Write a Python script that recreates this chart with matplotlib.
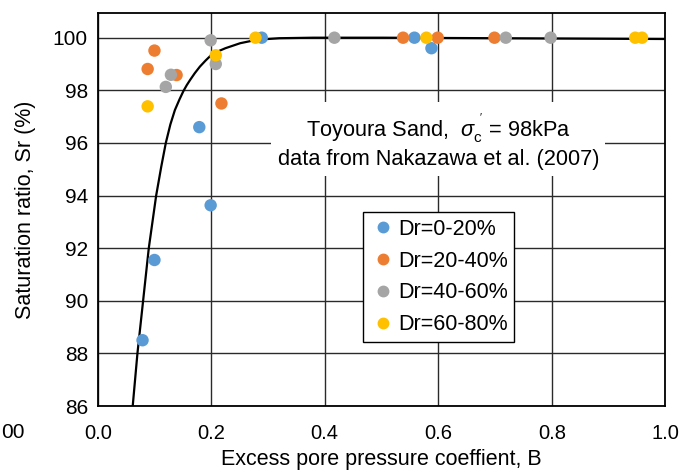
import matplotlib
matplotlib.use('Agg')
import matplotlib.pyplot as plt
from matplotlib.lines import Line2D

plt.rcParams['font.family'] = ['Liberation Sans', 'DejaVu Sans']
plt.rcParams['mathtext.fontset'] = 'custom'
plt.rcParams['mathtext.rm'] = 'Liberation Sans'
plt.rcParams['mathtext.it'] = 'Liberation Sans:italic'

# theoretical curve
curve_b = [0.0617, 0.070, 0.080, 0.090, 0.103, 0.112, 0.120, 0.128, 0.136, 0.144, 0.151,
           0.157, 0.163, 0.171, 0.180, 0.190, 0.200, 0.212, 0.225, 0.251, 0.28, 0.32,
           0.38, 0.5, 0.7, 1.0]
curve_sr = [86.0, 88.0, 90.0, 92.0, 94.0, 95.1, 96.0, 96.7, 97.25, 97.65, 97.97,
            98.2, 98.4, 98.65, 98.9, 99.13, 99.34, 99.48, 99.6, 99.79, 99.92, 99.98,
            100.0, 100.0, 99.98, 99.95]

# test data (Nakazawa et al. 2007)
b_0_20 = [0.079, 0.100, 0.199, 0.179, 0.289, 0.558, 0.588]
sr_0_20 = [88.5, 91.55, 93.63, 96.6, 100.0, 100.0, 99.6]

b_20_40 = [0.100, 0.088, 0.139, 0.218, 0.538, 0.599, 0.699]
sr_20_40 = [99.51, 98.81, 98.58, 97.5, 100.0, 100.0, 100.0]

b_40_60 = [0.199, 0.208, 0.129, 0.120, 0.417, 0.719, 0.798]
sr_40_60 = [99.9, 99.0, 98.59, 98.13, 100.0, 100.0, 100.0]

b_60_80 = [0.088, 0.208, 0.278, 0.579, 0.947, 0.959]
sr_60_80 = [97.39, 99.33, 100.0, 100.0, 100.0, 100.0]

series = [
    ('Dr=0-20%', b_0_20, sr_0_20, '#5B9BD5'),
    ('Dr=20-40%', b_20_40, sr_20_40, '#ED7D31'),
    ('Dr=40-60%', b_40_60, sr_40_60, '#A5A5A5'),
    ('Dr=60-80%', b_60_80, sr_60_80, '#FFC000'),
]

fig = plt.figure(figsize=(6.88, 4.73), dpi=100)
ax = fig.add_axes([97.7 / 688, 1 - 406 / 473, (665.3 - 97.7) / 688, (406 - 12.7) / 473])

ax.set_xlim(0, 1.0)
ax.set_ylim(86, 100.95)
ax.set_xticks([0.0, 0.2, 0.4, 0.6, 0.8, 1.0])
ax.set_xticklabels(['0.0', '0.2', '0.4', '0.6', '0.8', '1.0'])
ax.set_yticks(range(86, 101, 2))
ax.grid(True, color='#2a2a2a', lw=1.0)
ax.set_axisbelow(True)
ax.tick_params(length=0)
ax.tick_params(axis='x', pad=13, labelsize=14.5)
ax.tick_params(axis='y', pad=7, labelsize=15)
for s in ax.spines.values():
    s.set_linewidth(1.3)
    s.set_color('black')

ax.plot(curve_b, curve_sr, color='black', lw=1.6, zorder=2)

handles = []
for label, b, sr, c in series:
    ax.scatter(b, sr, s=80, color=c, edgecolors='none', zorder=3, clip_on=False)
    handles.append(Line2D([], [], marker='o', ls='none', color=c, markersize=7.5, label=label))

ax.set_xlabel('Excess pore pressure coeffient, B', fontsize=15.5, labelpad=4)
ax.set_ylabel('Saturation ratio, Sr (%)', fontsize=15.5, labelpad=12)

ax.text(0.60, 96.07, "Toyoura Sand,  $\\mathit{\\sigma}_{\\rm c}^{\\ '}$ = 98kPa\ndata from Nakazawa et al. (2007)",
        ha='center', va='center', fontsize=15.7, linespacing=1.22, zorder=4,
        bbox=dict(facecolor='white', edgecolor='none', pad=4.5))

leg = ax.legend(handles=handles, loc='upper left', bbox_to_anchor=(0.468, 0.4925),
                fontsize=15.5, frameon=True, fancybox=False, framealpha=1,
                edgecolor='black', borderpad=0.3, labelspacing=0.5,
                handletextpad=0.1, handlelength=1.2, borderaxespad=0)
leg.get_frame().set_linewidth(1.0)
leg.set_zorder(5)

fig.text(0.001, 1 - 432 / 473, '00', fontsize=15, ha='left', va='center')

fig.savefig('out.png', dpi=100)
